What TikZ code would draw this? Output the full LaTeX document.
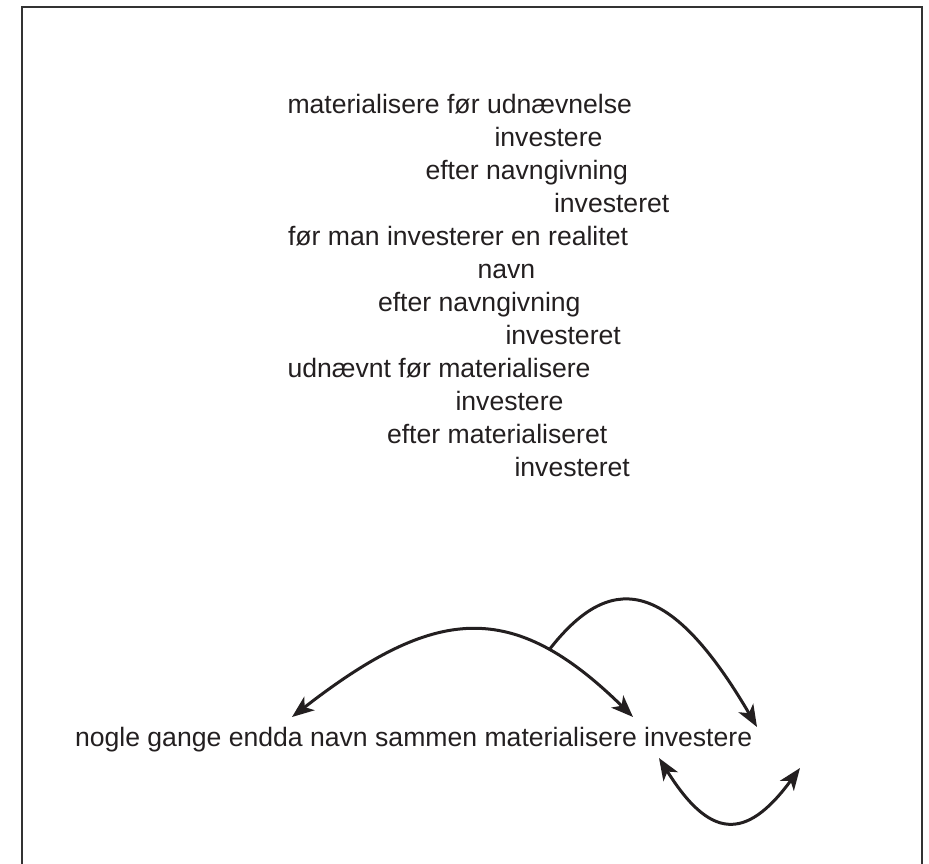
\documentclass[tikz,border=0pt]{standalone}
\usepackage{fontspec}
\setmainfont{Liberation Sans}
\usetikzlibrary{arrows.meta}
\definecolor{ink}{HTML}{231F20}
\begin{document}
\begin{tikzpicture}[x=1pt,y=-1pt,
  txt/.style={anchor=base west,inner sep=0pt,outer sep=0pt,text=ink,font=\fontsize{26.6}{32}\selectfont},
  conn/.style={draw=ink,line width=3pt},
  both/.style={{Stealth[length=22pt,width=17pt,inset=6pt]}-{Stealth[length=22pt,width=17pt,inset=6pt]}},
  endtip/.style={-{Stealth[length=22pt,width=17pt,inset=6pt]}},
  frame/.style={draw=black!80,line width=1.6pt}]
\useasboundingbox (0,0) rectangle (929,864);
\draw[frame] (22,870) -- (22,7) -- (922,7) -- (922,870);
% stacked lines
\node[txt] (l1)  at (287.5,113.3) {materialisere før udnævnelse};
\node[txt] (l2)  at (494.5,146.3) {investere};
\node[txt] (l3)  at (425.5,179.3) {efter navngivning};
\node[txt] (l4)  at (554,212.3) {investeret};
\node[txt] (l5)  at (288,245.3) {før man investerer en realitet};
\node[txt] (l6)  at (477.5,278.3) {navn};
\node[txt] (l7)  at (378,311.3) {efter navngivning};
\node[txt] (l8)  at (505.5,344.3) {investeret};
\node[txt] (l9)  at (287.5,377.3) {udnævnt før materialisere};
\node[txt] (l10) at (455.5,410.3) {investere};
\node[txt] (l11) at (387,443.3) {efter materialiseret};
\node[txt] (l12) at (514.5,476.3) {investeret};
% bottom sentence
\node[txt] (s) at (75,746.7) {nogle gange endda navn sammen materialisere investere};
% arrow end points
\coordinate (a1) at (292,717);
\coordinate (a2) at (633,717);
\coordinate (j)  at (549,650);
\coordinate (b2) at (757,727);
\coordinate (c1) at (659,758);
\coordinate (c2) at (800,768);
\draw[conn,both] (a1) .. controls (435,606) and (512,598) .. (a2);
\draw[conn,endtip] (j) .. controls (608,574) and (667,573) .. (b2);
\draw[conn,both] (c1) .. controls (709,838) and (745,843) .. (c2);
\end{tikzpicture}
\end{document}
